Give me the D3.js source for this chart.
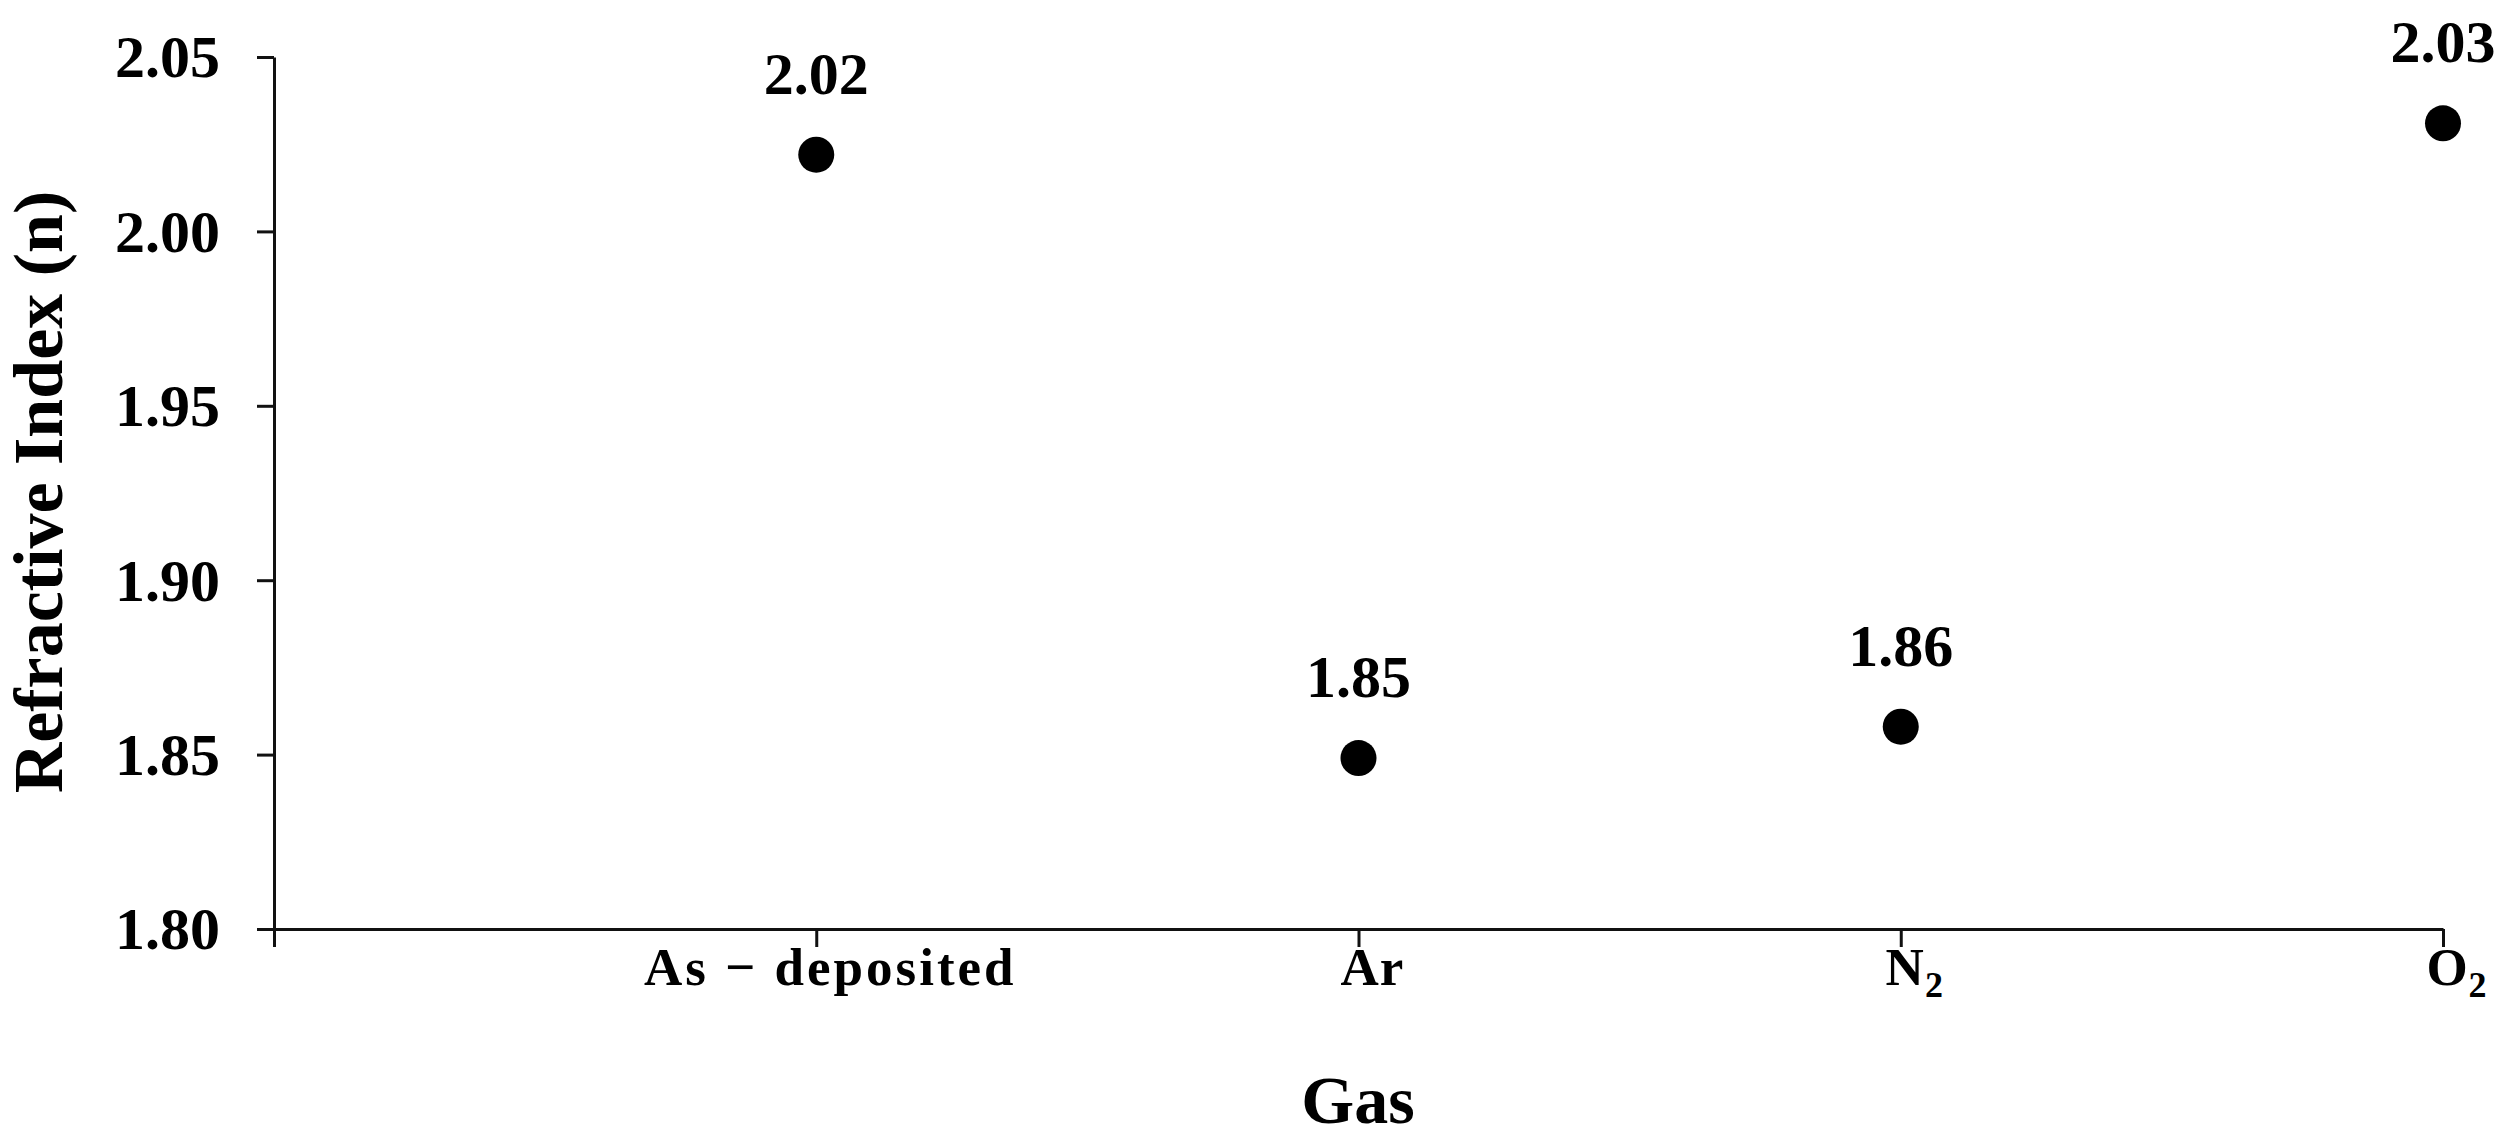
<!DOCTYPE html>
<html>
<head>
<meta charset="utf-8">
<script src="https://cdn.jsdelivr.net/npm/d3@7"></script>
<style>
  body { margin: 0; background: #fff; }
  text { font-family: "Liberation Serif", "Times New Roman", serif; font-weight: bold; fill: #000; }
</style>
</head>
<body>
<div id="chart"></div>
<script>
let categories = ["As \u2212 deposited", "Ar", "N", "O"];
let subscripts = ["", "", "2", "2"];
let positions = [1, 2, 3, 4];
let values = [2.022, 1.849, 1.858, 2.031];
let valueLabels = ["2.02", "1.85", "1.86", "2.03"];
let yTicks = [1.80, 1.85, 1.90, 1.95, 2.00, 2.05];

let width = 2511, height = 1142;

let svg = d3.select("#chart")
    .append("svg")
    .attr("width", width)
    .attr("height", height);

let x = d3.scaleLinear()
    .domain([0, 4])
    .range([274, 2443]);

let y = d3.scaleLinear()
    .domain([1.80, 2.05])
    .range([929, 57]);

// y axis
let yAxis = svg.append("g")
    .attr("transform", "translate(" + x(0) + ",0)")
    .call(d3.axisLeft(y)
        .tickValues(yTicks)
        .tickFormat(d3.format(".2f"))
        .tickSize(17)
        .tickSizeOuter(0)
        .tickPadding(37));

yAxis.selectAll("text")
    .attr("dy", "0.33em")
    .style("font-size", "60px");

// x axis, ticks only; labels drawn below
let xAxis = svg.append("g")
    .attr("transform", "translate(0," + y(1.80) + ")")
    .call(d3.axisBottom(x)
        .tickValues([0].concat(positions))
        .tickFormat("")
        .tickSize(18)
        .tickSizeOuter(0));

svg.selectAll(".domain, .tick line")
    .attr("stroke", "#111")
    .attr("stroke-width", 3);

// category labels
let catLabels = svg.selectAll(".cat-label")
    .data(categories)
    .enter()
    .append("text")
    .attr("class", "cat-label")
    .attr("x", (d, i) => x(positions[i]) + 14)
    .attr("y", 985)
    .attr("text-anchor", "middle")
    .style("font-size", "53px")
    .style("letter-spacing", (d, i) => i === 0 ? "3px" : "1px");

catLabels.append("tspan").text(d => d);
catLabels.append("tspan")
    .text((d, i) => subscripts[i])
    .attr("dy", 12)
    .style("font-size", "36px");

// points
svg.selectAll(".dot")
    .data(values)
    .enter()
    .append("circle")
    .attr("class", "dot")
    .attr("cx", (d, i) => x(positions[i]))
    .attr("cy", d => y(d))
    .attr("r", 18)
    .attr("fill", "#000");

// data labels
svg.selectAll(".val-label")
    .data(values)
    .enter()
    .append("text")
    .attr("class", "val-label")
    .attr("x", (d, i) => x(positions[i]))
    .attr("y", d => y(d) - 61)
    .attr("text-anchor", "middle")
    .style("font-size", "60px")
    .text((d, i) => valueLabels[i]);

// axis titles
svg.append("text")
    .attr("transform", "translate(62,492) rotate(-90)")
    .attr("text-anchor", "middle")
    .style("font-size", "70px")
    .text("Refractive Index (n)");

svg.append("text")
    .attr("x", 1358)
    .attr("y", 1123)
    .attr("text-anchor", "middle")
    .style("font-size", "68px")
    .text("Gas");
</script>
</body>
</html>
